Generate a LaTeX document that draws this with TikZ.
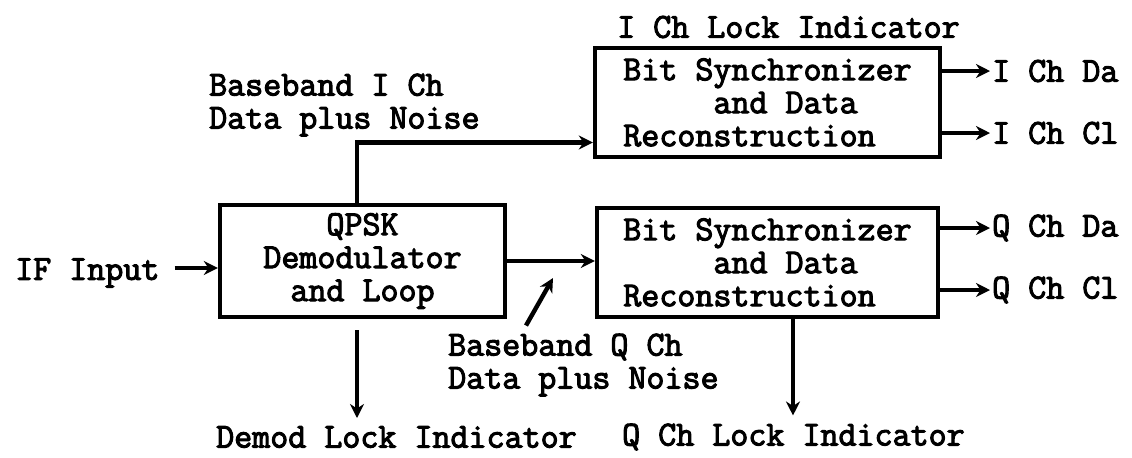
\documentclass[tikz,border=0pt]{standalone}
\usepackage{fontspec}
\setmonofont{Latin Modern Mono}[AutoFakeBold=3]
\usepackage{tikz}
\usetikzlibrary{arrows.meta,positioning}

\begin{document}
\begin{tikzpicture}[x=0.5pt, y=-0.5pt, line width=2.2pt, >={Stealth[length=7pt,width=7pt]}]
\tikzstyle{every node} = [font=\ttfamily\bfseries\fontsize{17.5}{16.5}\selectfont, inner sep=0pt]
\tikzstyle{block} = [draw, align=center, minimum height=54.5pt]
\useasboundingbox (0,0) rectangle (1132,457);
% blocks
\node[block, minimum width=142.5pt, minimum height=56pt] (qpsk) at (362.5,261) {QPSK\\Demodulator\\and Loop};
\node[block, align=left, minimum width=172.5pt] (isync) at (767.5,102.5) {Bit Synchronizer\\\phantom{Bit S}and Data\\Reconstruction};
\node[block, align=left, minimum width=170.5pt] (qsync) at (767.5,262.5) {Bit Synchronizer\\\phantom{Bit S}and Data\\Reconstruction};
% labels
\node[anchor=west] (ifin) at (13,273) {IF Input};
\node[anchor=west] (ilock) at (615,27) {I Ch Lock Indicator};
\node[anchor=west, align=left] (ibase) at (207,105) {Baseband I Ch\\Data plus Noise};
\node[anchor=west, align=left] (qbase) at (446,365) {Baseband Q Ch\\Data plus Noise};
\node[anchor=west] (demodlock) at (214,437) {Demod Lock Indicator};
\node[anchor=west] (qlock) at (620,437) {Q Ch Lock Indicator};
\node[anchor=west] (idata) at (990,71) {I Ch Da};
\node[anchor=west] (iclk) at (990,133) {I Ch Cl};
\node[anchor=west] (qdata) at (990,228) {Q Ch Da};
\node[anchor=west] (qclk) at (990,290) {Q Ch Cl};
\coordinate (qtap) at (553,278);
% connectors
\draw[->] ([xshift=6.5pt,yshift=2.5pt]ifin.east) -- ([yshift=2.5pt]ifin.east -| qpsk.west);
\draw[->] (qpsk.east) -- (qpsk.east -| qsync.west);
\draw[->] ([xshift=-2.75pt]qpsk.north) |- ([yshift=-20pt]isync.west);
\draw[->] ([shift={(40pt,3pt)}]qbase.north west) -- (qtap);
\draw[->, shorten >=3pt] ([xshift=-2.75pt,yshift=-5.5pt]qpsk.south) -- ([xshift=-2.75pt]qpsk.south |- demodlock.north);
\draw[->, shorten >=3pt] ([xshift=12.75pt]qsync.south) -- ([xshift=12.75pt]qsync.south |- qlock.north);
\draw ([xshift=9.75pt]isync.north) -- ([xshift=9.75pt,yshift=-3pt]isync.north |- ilock.south);
\draw[->] (isync.east |- idata) -- (idata.west);
\draw[->] (isync.east |- iclk) -- (iclk.west);
\draw[->] (qsync.east |- qdata) -- (qdata.west);
\draw[->] (qsync.east |- qclk) -- (qclk.west);
\end{tikzpicture}
\end{document}
